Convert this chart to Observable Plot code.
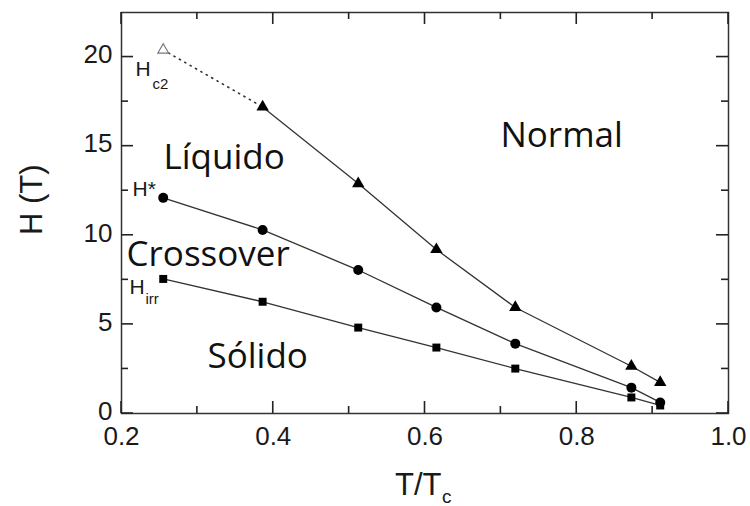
<!DOCTYPE html>
<html><head><meta charset="utf-8">
<script src="https://cdn.jsdelivr.net/npm/d3@7"></script>
<script src="https://cdn.jsdelivr.net/npm/@observablehq/plot@0.6"></script>
<style>
body{margin:0;background:#fff;}
#chart svg{display:block;}
</style>
</head><body><div id="chart"></div>
<script>
// Reduced temperature T/Tc
const T = [0.255, 0.386, 0.512, 0.615, 0.719, 0.872, 0.910];
// Upper critical field Hc2 (first point: open triangle, extrapolated)
const Hc2 = [20.4, 17.2, 12.9, 9.2, 5.95, 2.65, 1.75];
// Crossover field H*
const Hstar = [12.1, 10.3, 8.05, 5.95, 3.92, 1.45, 0.62];
// Irreversibility field Hirr
const Hirr = [7.55, 6.27, 4.82, 3.7, 2.52, 0.9, 0.45];

const xTicks = [0.2, 0.4, 0.6, 0.8, 1.0];
const xMinor = [0.3, 0.5, 0.7, 0.9];
const yTicks = [0, 5, 10, 15, 20];
const yMinor = [2.5, 7.5, 12.5, 17.5];

const regionLabels = ["Líquido", "Crossover", "Normal", "Sólido"];

const rows = vals => T.map((t, i) => ({t, h: vals[i]}));
const hc2 = rows(Hc2), hs = rows(Hstar), hi = rows(Hirr);
const hc2Open = hc2.slice(0, 1), hc2Filled = hc2.slice(1), hc2Dotted = hc2.slice(0, 2);

const WIDTH = 750, HEIGHT = 506, mL = 121, mR = 22, mT = 12, mB = 93;
const xDom = [0.2, 1.0], yDom = [0, 22.5];
const major = 12, minor = 7;

const ink = "#1a1a1a";
const axisFont = "Liberation Sans, Arial, Helvetica, sans-serif";
const regionFont = "Open Sans, Noto Sans, sans-serif";

const chart = Plot.plot({
  width: WIDTH,
  height: HEIGHT,
  marginLeft: mL,
  marginRight: mR,
  marginTop: mT,
  marginBottom: mB,
  style: {background: "#fff", color: ink, fontFamily: axisFont},
  x: {domain: xDom},
  y: {domain: yDom},
  marks: [
    Plot.frame({stroke: "#333", strokeWidth: 1.5, fill: "none"}),
    // tick labels
    Plot.axisX(xTicks, {anchor: "bottom", tickSize: 0, tickPadding: 13, fontSize: 26, fontFamily: axisFont, tickFormat: d3.format(".1f"), label: null}),
    Plot.axisY(yTicks, {anchor: "left", tickSize: 0, tickPadding: 9, dy: -2, fontSize: 26, fontFamily: axisFont, tickFormat: d3.format("d"), label: null}),
    // axis titles
    Plot.text(["H (T)"], {frameAnchor: "left", rotate: -90, dx: -89, dy: 22, fontSize: 31, fontFamily: axisFont, fill: ink}),
    Plot.text(["T/T"], {frameAnchor: "bottom", textAnchor: "start", dx: -30, dy: 81, fontSize: 31, fontFamily: axisFont, fill: ink}),
    Plot.text(["c"], {frameAnchor: "bottom", textAnchor: "start", dx: 17, dy: 89, fontSize: 19, fontFamily: axisFont, fill: ink}),
    // curves
    Plot.line(hc2Dotted, {x: "t", y: "h", stroke: "#333", strokeWidth: 1.6, strokeDasharray: "1.2,5", strokeLinecap: "round"}),
    Plot.line(hc2Filled, {x: "t", y: "h", stroke: "#333", strokeWidth: 1.3}),
    Plot.line(hs, {x: "t", y: "h", stroke: "#333", strokeWidth: 1.3}),
    Plot.line(hi, {x: "t", y: "h", stroke: "#333", strokeWidth: 1.3}),
    Plot.dot(hc2Open, {x: "t", y: "h", symbol: "triangle", r: 4, fill: "#fff", stroke: "#777", strokeWidth: 1.2}),
    Plot.dot(hc2Filled, {x: "t", y: "h", symbol: "triangle", r: 4.6, fill: "#000", stroke: "none"}),
    Plot.dot(hs, {x: "t", y: "h", symbol: "circle", r: 5, fill: "#000", stroke: "none"}),
    Plot.dot(hi, {x: "t", y: "h", symbol: "square", r: 4.5, fill: "#000", stroke: "none"}),
    // curve labels
    Plot.text(["H"], {x: 0.2184, y: 18.94, textAnchor: "start", lineAnchor: "bottom", fontSize: 21, fontFamily: axisFont, fill: ink}),
    Plot.text(["c2"], {x: 0.2184, y: 18.94, dx: 17, dy: 13, textAnchor: "start", lineAnchor: "bottom", fontSize: 15, fontFamily: axisFont, fill: ink}),
    Plot.text(["H*"], {x: 0.2145, y: 12.21, textAnchor: "start", lineAnchor: "bottom", fontSize: 21, fontFamily: axisFont, fill: ink}),
    Plot.text(["H"], {x: 0.2105, y: 6.72, textAnchor: "start", lineAnchor: "bottom", fontSize: 21, fontFamily: axisFont, fill: ink}),
    Plot.text(["irr"], {x: 0.2105, y: 6.72, dx: 16, dy: 10, textAnchor: "start", lineAnchor: "bottom", fontSize: 15, fontFamily: axisFont, fill: ink}),
    // region labels
    Plot.text([regionLabels[0]], {x: 0.2553, y: 13.73, textAnchor: "start", lineAnchor: "bottom", fontSize: 35, fontFamily: regionFont, fill: "#111"}),
    Plot.text([regionLabels[1]], {x: 0.2066, y: 8.29, textAnchor: "start", lineAnchor: "bottom", fontSize: 35, fontFamily: regionFont, fill: "#111"}),
    Plot.text([regionLabels[2]], {x: 0.6994, y: 14.96, textAnchor: "start", lineAnchor: "bottom", fontSize: 35, fontFamily: regionFont, fill: "#111"}),
    Plot.text([regionLabels[3]], {x: 0.3133, y: 2.58, textAnchor: "start", lineAnchor: "bottom", fontSize: 35, fontFamily: regionFont, fill: "#111"})
  ]
});
document.getElementById("chart").appendChild(chart);

// Inward ticks on all four sides, positioned with Plot's own scales
const sx = chart.scale("x"), sy = chart.scale("y");
const [x0, x1] = sx.range, [y0, y1] = sy.range; // y0 = bottom, y1 = top
const g = d3.select(chart).append("g").attr("stroke", "#222").attr("stroke-width", 1.6);
const addX = (vals, len) => vals.forEach(v => {
  const px = sx.apply(v);
  g.append("line").attr("x1", px).attr("x2", px).attr("y1", y0).attr("y2", y0 - len);
  g.append("line").attr("x1", px).attr("x2", px).attr("y1", y1).attr("y2", y1 + len);
});
const addY = (vals, len) => vals.forEach(v => {
  const py = sy.apply(v);
  g.append("line").attr("y1", py).attr("y2", py).attr("x1", x0).attr("x2", x0 + len);
  g.append("line").attr("y1", py).attr("y2", py).attr("x1", x1).attr("x2", x1 - len);
});
addX(xTicks, major); addX(xMinor, minor);
addY(yTicks, major); addY(yMinor, minor);
</script>
</body></html>
